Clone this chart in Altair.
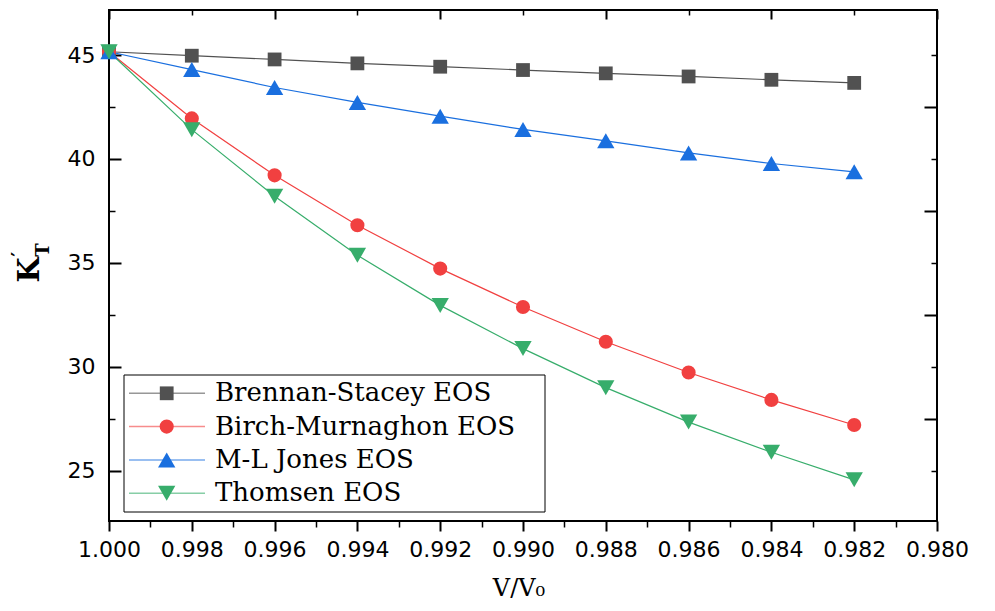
import altair as alt
import pandas as pd

# ---------------- data ----------------
v_ratio = [1.000, 0.998, 0.996, 0.994, 0.992, 0.990, 0.988, 0.986, 0.984, 0.982]
series_names = ["Brennan-Stacey EOS", "Birch-Murnaghon EOS", "M-L Jones EOS", "Thomsen EOS"]
brennan = [45.16, 44.97, 44.79, 44.60, 44.44, 44.28, 44.12, 43.97, 43.81, 43.66]
birch = [45.16, 41.95, 39.21, 36.81, 34.72, 32.87, 31.20, 29.72, 28.40, 27.19]
jones = [45.16, 44.30, 43.44, 42.72, 42.06, 41.42, 40.87, 40.29, 39.78, 39.38]
thomsen = [45.16, 41.41, 38.20, 35.36, 32.95, 30.87, 28.99, 27.33, 25.88, 24.55]

x_major = [1.000, 0.998, 0.996, 0.994, 0.992, 0.990, 0.988, 0.986, 0.984, 0.982, 0.980]
x_minor = [0.999, 0.997, 0.995, 0.993, 0.991, 0.989, 0.987, 0.985, 0.983, 0.981]
x_top_major = [1.000, 0.996, 0.992, 0.988, 0.984, 0.980]
x_top_minor = [0.998, 0.994, 0.990, 0.986, 0.982]
y_major = [25, 30, 35, 40, 45]
y_minor = [27.5, 32.5, 37.5, 42.5]

colors = ["#515151", "#F14040", "#1A6FDF", "#37AD6B"]
shapes = ["square", "circle", "triangle-up", "triangle-down"]
sizes = [190, 200, 300, 300]

rows = []
for name, vals in zip(series_names, [brennan, birch, jones, thomsen]):
    for v, k in zip(v_ratio, vals):
        rows.append({"V": v, "K": k, "series": name})
df = pd.DataFrame(rows)

# ---------------- scales ----------------
xs = alt.Scale(domain=[0.98, 1.0], reverse=True, nice=False, zero=False)
ys = alt.Scale(domain=[22.57, 47.17], nice=False, zero=False)
color = alt.Color("series:N", scale=alt.Scale(domain=series_names, range=colors), legend=None)

base = alt.Chart(df)

lines = base.mark_line(strokeWidth=1.2).encode(
    x=alt.X("V:Q", scale=xs, axis=None),
    y=alt.Y("K:Q", scale=ys, axis=None),
    color=color,
    detail="series:N",
)
point_layers = []
for name, c, s, sz in zip(series_names, colors, shapes, sizes):
    point_layers.append(
        base.transform_filter(alt.datum.series == name)
        .mark_point(filled=True, opacity=1, shape=s, size=sz, color=c)
        .encode(
            x=alt.X("V:Q", scale=xs, axis=None),
            y=alt.Y("K:Q", scale=ys, axis=None),
        )
    )

common = dict(domain=False, grid=False, tickColor="black", title=None)


def axis_layer(xaxis, yaxis):
    return base.mark_point(opacity=0).encode(
        x=alt.X("V:Q", scale=xs, axis=xaxis),
        y=alt.Y("K:Q", scale=ys, axis=yaxis),
    )


ax_a = axis_layer(
    alt.Axis(orient="bottom", values=x_major, format=".3f", tickSize=10, tickWidth=2,
             labelFont="DejaVu Sans", labelFontSize=22, labelColor="black", labelPadding=8,
             labelFlush=False, labelOverlap=False, **common),
    alt.Axis(orient="left", values=y_major, format="d", tickSize=12, tickWidth=2, offset=-12,
             labelFont="DejaVu Sans", labelFontSize=22, labelColor="black", labelPadding=14,
             labelFlush=False, labelOverlap=False, **common),
)
ax_b = axis_layer(
    alt.Axis(orient="bottom", values=x_minor, tickSize=6, tickWidth=1.5, labels=False, **common),
    alt.Axis(orient="left", values=y_minor, tickSize=6, tickWidth=1.5, offset=-6, labels=False, **common),
)
ax_c = axis_layer(
    alt.Axis(orient="top", values=x_top_major, tickSize=9, tickWidth=2, offset=-9, labels=False, **common),
    alt.Axis(orient="right", values=y_minor, tickSize=13, tickWidth=2, offset=-13, labels=False, **common),
)
ax_d = axis_layer(
    alt.Axis(orient="top", values=x_top_minor, tickSize=5, tickWidth=1.5, offset=-5, labels=False, **common),
    alt.Axis(orient="right", values=y_major, tickSize=6, tickWidth=1.5, offset=-6, labels=False, **common),
)

# ---------------- legend (manual) ----------------
one = pd.DataFrame({"a": [0]})
legend_layers = [
    alt.Chart(one).mark_rect(fill="white", stroke="black", strokeWidth=1).encode(
        x=alt.value(15), x2=alt.value(436), y=alt.value(365), y2=alt.value(502)
    )
]
for i, (name, c, s, sz) in enumerate(zip(series_names, colors, shapes, sizes)):
    ry = 383.3 + 33.3 * i
    row = pd.DataFrame({"series": [name]})
    legend_layers.append(
        alt.Chart(row).mark_rule(color=c, strokeWidth=1.5, opacity=0.6).encode(
            x=alt.value(20), x2=alt.value(96), y=alt.value(ry)
        )
    )
    legend_layers.append(
        alt.Chart(row).mark_point(filled=True, shape=s, size=sz, color=c, opacity=1).encode(
            x=alt.value(57.7), y=alt.value(ry)
        )
    )
    legend_layers.append(
        alt.Chart(row).mark_text(align="left", baseline="middle", font="DejaVu Serif",
                                 fontSize=26, color="black").encode(
            x=alt.value(106), y=alt.value(ry), text="series:N"
        )
    )

# ---------------- axis titles ----------------
y_title_k = alt.Chart(one).mark_text(text="K", angle=270, font="DejaVu Serif", fontWeight="bold",
                                     fontSize=29, align="center", baseline="middle",
                                     color="black").encode(x=alt.value(-79), y=alt.value(260))
y_title_t = alt.Chart(one).mark_text(text="T", angle=270, font="DejaVu Serif", fontWeight="bold",
                                     fontSize=18, align="center", baseline="middle",
                                     color="black").encode(x=alt.value(-65), y=alt.value(240))
y_title_p = alt.Chart(one).mark_text(text="′", angle=270, font="DejaVu Serif", fontWeight="bold",
                                     fontSize=18, align="center", baseline="middle",
                                     color="black").encode(x=alt.value(-89), y=alt.value(244))
x_title = alt.Chart(one).mark_text(text="V/V₀", font="DejaVu Serif", fontSize=24,
                                   align="center", baseline="alphabetic",
                                   color="black").encode(x=alt.value(410), y=alt.value(586))

chart = alt.layer(
    ax_a, ax_b, ax_c, ax_d, lines, *point_layers, *legend_layers,
    y_title_k, y_title_t, y_title_p, x_title,
).resolve_axis(
    x="independent", y="independent"
).properties(
    width=828,
    height=511,
    padding={"left": 101, "top": 2, "right": 40, "bottom": 92},
    autosize=alt.AutoSizeParams(type="none"),
).configure_view(
    stroke="black", strokeWidth=2
)

chart.save("out.html", embed_options={"renderer": "svg", "actions": False})
